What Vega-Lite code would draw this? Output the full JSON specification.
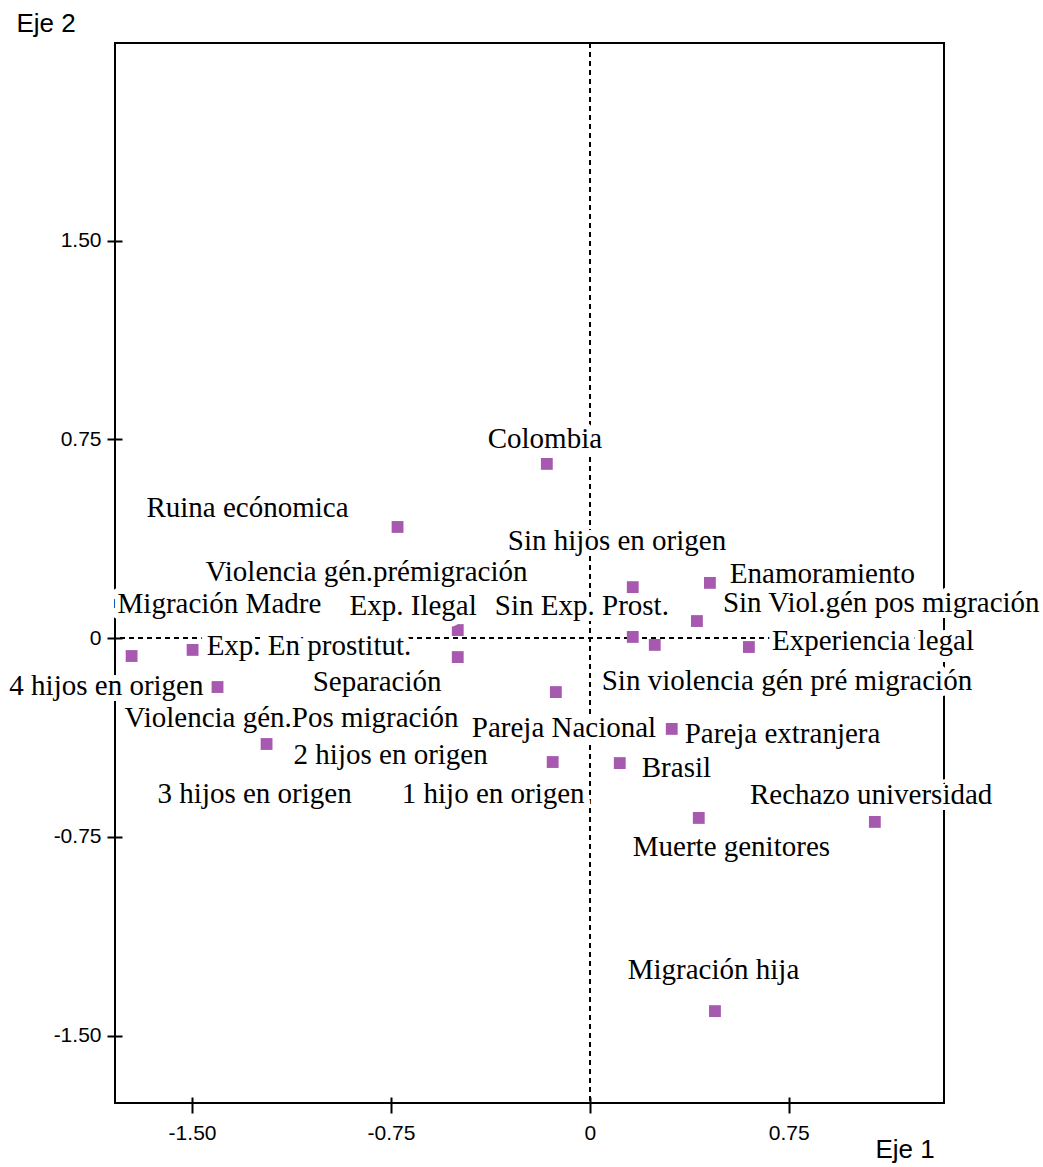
{
  "$schema": "https://vega.github.io/schema/vega-lite/v6.json",
  "width": 829,
  "height": 1060,
  "autosize": "none",
  "padding": {"left": 115, "top": 43, "right": 99, "bottom": 64},
  "background": "white",
  "config": {
    "view": {"stroke": "black", "strokeWidth": 2},
    "axis": {
      "grid": false,
      "domain": false,
      "tickColor": "black",
      "tickWidth": 2,
      "labelColor": "black",
      "labelFont": "Liberation Sans",
      "labelFontSize": 21,
      "titleFont": "Liberation Sans",
      "titleFontSize": 26,
      "titleFontWeight": "normal",
      "titleColor": "black"
    }
  },
  "datasets": {
    "points": [
      {"nombre": "Colombia", "eje1": -0.162, "eje2": 0.657},
      {"nombre": "Ruina ecónomica", "eje1": -0.725, "eje2": 0.419},
      {"nombre": "Sin hijos en origen", "eje1": 0.162, "eje2": 0.192},
      {"nombre": "Enamoramiento", "eje1": 0.453, "eje2": 0.208},
      {"nombre": "Sin Viol.gén pos migración", "eje1": 0.404, "eje2": 0.064},
      {"nombre": "Sin Exp. Prost.", "eje1": 0.162, "eje2": 0.004},
      {"nombre": "Sin violencia gén pré migración", "eje1": 0.245, "eje2": -0.026},
      {"nombre": "Experiencia legal", "eje1": 0.6, "eje2": -0.034},
      {"nombre": "Exp. Ilegal", "eje1": -0.498, "eje2": 0.03},
      {"nombre": "Violencia gén.prémigración", "eje1": -0.498, "eje2": -0.072},
      {"nombre": "Migración Madre", "eje1": -1.728, "eje2": -0.068},
      {"nombre": "Exp. En prostitut.", "eje1": -1.498, "eje2": -0.045},
      {"nombre": "4 hijos en origen", "eje1": -1.404, "eje2": -0.185},
      {"nombre": "Separación", "eje1": -0.128, "eje2": -0.204},
      {"nombre": "Violencia gén.Pos migración", "eje1": -1.219, "eje2": -0.4},
      {"nombre": "1 hijo en origen", "eje1": -0.14, "eje2": -0.468},
      {"nombre": "Brasil", "eje1": 0.113, "eje2": -0.472},
      {"nombre": "Pareja extranjera", "eje1": 0.309, "eje2": -0.343},
      {"nombre": "Muerte genitores", "eje1": 0.411, "eje2": -0.679},
      {"nombre": "Rechazo universidad", "eje1": 1.075, "eje2": -0.694},
      {"nombre": "Migración hija", "eje1": 0.472, "eje2": -1.408}
    ],
    "labels": [
      {"texto": "Colombia", "eje1": -0.385, "eje2": 0.717},
      {"texto": "Ruina ecónomica", "eje1": -1.672, "eje2": 0.457},
      {"texto": "Sin hijos en origen", "eje1": -0.309, "eje2": 0.332},
      {"texto": "Violencia gén.prémigración", "eje1": -1.449, "eje2": 0.215},
      {"texto": "Enamoramiento", "eje1": 0.528, "eje2": 0.208},
      {"texto": "Migración Madre", "eje1": -1.781, "eje2": 0.094},
      {"texto": "Exp. Ilegal", "eje1": -0.906, "eje2": 0.087},
      {"texto": "Sin Exp. Prost.", "eje1": -0.358, "eje2": 0.087},
      {"texto": "Sin Viol.gén pos migración", "eje1": 0.502, "eje2": 0.098},
      {"texto": "Exp. En prostitut.", "eje1": -1.445, "eje2": -0.064},
      {"texto": "Experiencia legal", "eje1": 0.687, "eje2": -0.045},
      {"texto": "4 hijos en origen", "eje1": -2.189, "eje2": -0.215},
      {"texto": "Separación", "eje1": -1.045, "eje2": -0.2},
      {"texto": "Sin violencia gén pré migración", "eje1": 0.045, "eje2": -0.196},
      {"texto": "Violencia gén.Pos migración", "eje1": -1.755, "eje2": -0.336},
      {"texto": "Pareja Nacional", "eje1": -0.445, "eje2": -0.374},
      {"texto": "Pareja extranjera", "eje1": 0.358, "eje2": -0.396},
      {"texto": "2 hijos en origen", "eje1": -1.117, "eje2": -0.475},
      {"texto": "Brasil", "eje1": 0.196, "eje2": -0.525},
      {"texto": "3 hijos en origen", "eje1": -1.63, "eje2": -0.623},
      {"texto": "1 hijo en origen", "eje1": -0.709, "eje2": -0.623},
      {"texto": "Rechazo universidad", "eje1": 0.604, "eje2": -0.626},
      {"texto": "Muerte genitores", "eje1": 0.162, "eje2": -0.823},
      {"texto": "Migración hija", "eje1": 0.143, "eje2": -1.287}
    ]
  },
  "layer": [
    {
      "data": {"name": "points"},
      "mark": {"type": "rule", "color": "black", "strokeWidth": 1.5, "strokeDash": [5, 4]},
      "encoding": {"x": {"datum": 0, "type": "quantitative"}}
    },
    {
      "data": {"name": "points"},
      "mark": {"type": "rule", "color": "black", "strokeWidth": 1.5, "strokeDash": [5, 4]},
      "encoding": {"y": {"datum": 0, "type": "quantitative"}}
    },
    {
      "data": {"name": "points"},
      "mark": {"type": "point", "shape": "square", "filled": true, "size": 140, "color": "#A659AE", "opacity": 1},
      "encoding": {
        "x": {
          "field": "eje1", "type": "quantitative",
          "scale": {"domain": [-1.7906, 1.3358], "nice": false, "zero": false},
          "axis": {
            "values": [-1.5, -0.75, 0, 0.75],
            "labelExpr": "datum.value == 0 ? '0' : replace(format(datum.value, '.2f'), '−', '-')",
            "offset": -6, "tickSize": 16, "labelPadding": 9,
            "title": "Eje 1", "titleAlign": "left", "titleBaseline": "alphabetic",
            "titleX": 760, "titleY": 60, "titleAngle": 0
          }
        },
        "y": {
          "field": "eje2", "type": "quantitative",
          "scale": {"domain": [-1.7547, 2.2453], "nice": false, "zero": false},
          "axis": {
            "values": [-1.5, -0.75, 0, 0.75, 1.5],
            "labelExpr": "datum.value == 0 ? '0' : replace(format(datum.value, '.2f'), '−', '-')",
            "offset": -7, "tickSize": 15, "labelPadding": 6,
            "title": "Eje 2", "titleAlign": "left", "titleBaseline": "alphabetic",
            "titleX": -106, "titleY": -12, "titleAngle": 0
          }
        }
      }
    },
    {
      "data": {"name": "labels"},
      "mark": {"type": "text", "font": "Liberation Serif", "fontSize": 29, "align": "left", "baseline": "alphabetic", "color": "white", "stroke": "white", "strokeWidth": 12, "strokeJoin": "round"},
      "encoding": {
        "x": {"field": "eje1", "type": "quantitative"},
        "y": {"field": "eje2", "type": "quantitative"},
        "text": {"field": "texto"}
      }
    },
    {
      "data": {"name": "labels"},
      "mark": {"type": "text", "font": "Liberation Serif", "fontSize": 29, "align": "left", "baseline": "alphabetic", "color": "black"},
      "encoding": {
        "x": {"field": "eje1", "type": "quantitative"},
        "y": {"field": "eje2", "type": "quantitative"},
        "text": {"field": "texto"}
      }
    }
  ]
}
